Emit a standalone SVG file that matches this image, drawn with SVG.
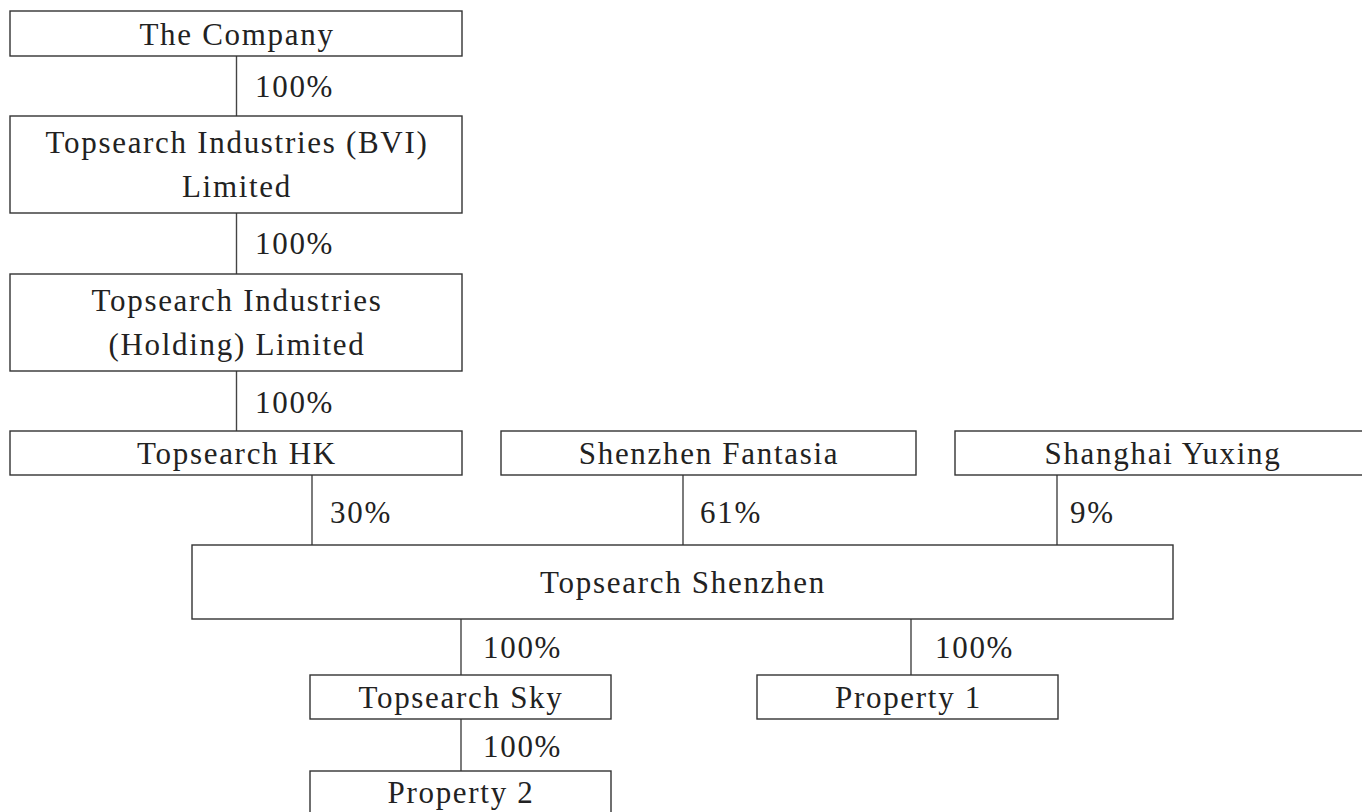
<svg xmlns="http://www.w3.org/2000/svg" width="1362" height="812" viewBox="0 0 1362 812">
<style>
.box{fill:#fff;stroke:#333;stroke-width:1.4}
.t{font-family:"Liberation Serif","Times New Roman",serif;font-size:31px;letter-spacing:1.7px;fill:#222;text-anchor:middle}
.p{font-family:"Liberation Serif","Times New Roman",serif;font-size:31px;letter-spacing:1.7px;fill:#222}
.c{stroke:#444;stroke-width:1.4;fill:none}
</style>
<rect width="1362" height="812" fill="#fff"/>
<g id="connectors">
<line class="c" x1="236.5" y1="56" x2="236.5" y2="116"/>
<line class="c" x1="236.5" y1="213" x2="236.5" y2="274"/>
<line class="c" x1="236.5" y1="371" x2="236.5" y2="431"/>
<line class="c" x1="312" y1="475" x2="312" y2="545"/>
<line class="c" x1="683" y1="475" x2="683" y2="545"/>
<line class="c" x1="1057" y1="475" x2="1057" y2="545"/>
<line class="c" x1="461" y1="619" x2="461" y2="675"/>
<line class="c" x1="911" y1="619" x2="911" y2="675"/>
<line class="c" x1="461" y1="719" x2="461" y2="771"/>
<text class="p" x="255" y="97">100%</text>
<text class="p" x="255" y="254">100%</text>
<text class="p" x="255" y="413">100%</text>
<text class="p" x="330" y="523">30%</text>
<text class="p" x="700" y="523">61%</text>
<text class="p" x="1070" y="523">9%</text>
<text class="p" x="483" y="658">100%</text>
<text class="p" x="935" y="658">100%</text>
<text class="p" x="483" y="757">100%</text>
</g>
<g id="company">
<rect class="box" x="10" y="11" width="452" height="45"/>
<text class="t" x="237" y="45">The Company</text>
</g>
<g id="bvi">
<rect class="box" x="10" y="116" width="452" height="97"/>
<text class="t" x="237" y="153">Topsearch Industries (BVI)</text>
<text class="t" x="237" y="197">Limited</text>
</g>
<g id="holding">
<rect class="box" x="10" y="274" width="452" height="97"/>
<text class="t" x="237" y="311">Topsearch Industries</text>
<text class="t" x="237" y="355">(Holding) Limited</text>
</g>
<g id="hk">
<rect class="box" x="10" y="431" width="452" height="44"/>
<text class="t" x="237" y="464">Topsearch HK</text>
</g>
<g id="fantasia">
<rect class="box" x="501" y="431" width="415" height="44"/>
<text class="t" x="709" y="464">Shenzhen Fantasia</text>
</g>
<g id="yuxing">
<rect class="box" x="955" y="431" width="414" height="44"/>
<text class="t" x="1163" y="464">Shanghai Yuxing</text>
</g>
<g id="shenzhen">
<rect class="box" x="192" y="545" width="981" height="74"/>
<text class="t" x="683" y="593">Topsearch Shenzhen</text>
</g>
<g id="sky">
<rect class="box" x="310" y="675" width="301" height="44"/>
<text class="t" x="461" y="708">Topsearch Sky</text>
</g>
<g id="property1">
<rect class="box" x="757" y="675" width="301" height="44"/>
<text class="t" x="908.5" y="708">Property 1</text>
</g>
<g id="property2">
<rect class="box" x="310" y="771" width="301" height="50"/>
<text class="t" x="461" y="803">Property 2</text>
</g>
</svg>
